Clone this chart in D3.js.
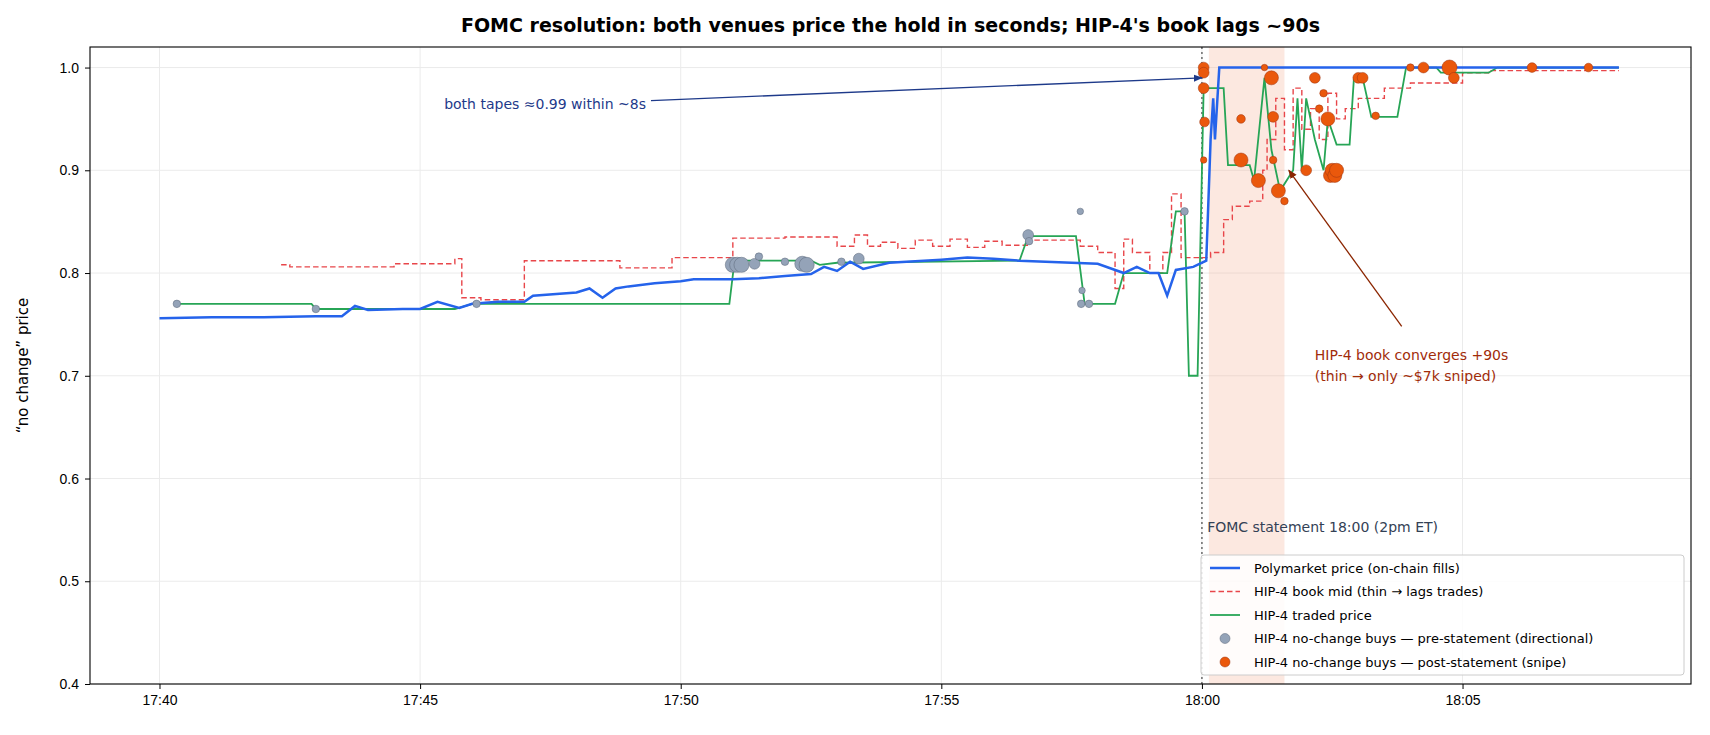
<!DOCTYPE html>
<html><head><meta charset="utf-8">
<script src="https://cdn.jsdelivr.net/npm/d3@7"></script>
<style>body{margin:0;background:#fff;font-family:"DejaVu Sans",sans-serif}</style>
</head><body><div id="chart"></div>
<script>
const polyTimes = ["17:40:00","17:41:00","17:42:00","17:43:00","17:43:30","17:43:45","17:44:00","17:44:40","17:45:00","17:45:20","17:45:45","17:46:00","17:46:30","17:47:00","17:47:10","17:48:00","17:48:15","17:48:30","17:48:45","17:49:00","17:49:30","17:50:00","17:50:15","17:51:00","17:51:30","17:52:00","17:52:30","17:52:45","17:53:00","17:53:15","17:53:30","17:54:00","17:55:00","17:55:30","17:56:00","17:56:30","17:57:00","17:58:00","17:58:30","17:58:45","17:59:00","17:59:10","17:59:20","17:59:30","17:59:50","18:00:05","18:00:10","18:00:13","18:00:15","18:00:20","18:08:00"];
const polyPrices = [0.756,0.757,0.757,0.758,0.758,0.768,0.764,0.765,0.765,0.772,0.766,0.770,0.772,0.772,0.778,0.781,0.785,0.776,0.785,0.787,0.790,0.792,0.794,0.794,0.795,0.797,0.799,0.806,0.802,0.811,0.804,0.810,0.813,0.815,0.814,0.812,0.811,0.809,0.800,0.806,0.800,0.800,0.778,0.803,0.806,0.812,0.930,0.970,0.930,1.0,1.0];

const bookTimes = ["17:42:20","17:42:30","17:44:30","17:45:40","17:45:48","17:46:10","17:47:00","17:48:50","17:49:50","17:51:00","17:52:00","17:53:00","17:53:20","17:53:35","17:53:50","17:54:10","17:54:30","17:54:50","17:55:10","17:55:30","17:55:50","17:56:10","17:56:40","17:57:40","17:58:00","17:58:20","17:58:30","17:58:40","17:59:00","17:59:15","17:59:25","17:59:36","17:59:40","18:00:10","18:00:25","18:00:35","18:00:55","18:01:10","18:01:15","18:01:25","18:01:35","18:01:45","18:01:55","18:02:05","18:02:15","18:02:25","18:02:35","18:02:45","18:03:00","18:03:30","18:04:00","18:05:00","18:05:30","18:08:00"];
const bookPrices = [0.808,0.806,0.809,0.814,0.776,0.774,0.812,0.805,0.815,0.834,0.835,0.826,0.837,0.826,0.830,0.824,0.832,0.826,0.833,0.825,0.831,0.827,0.832,0.826,0.820,0.785,0.833,0.820,0.800,0.820,0.877,0.815,0.815,0.820,0.852,0.865,0.870,0.900,0.930,0.970,0.920,0.980,0.940,0.960,0.930,0.975,0.950,0.960,0.970,0.980,0.985,0.995,0.997,0.997];

const tradeTimes = ["17:40:20","17:42:55","17:43:00","17:45:40","17:46:00","17:50:56","17:51:02","17:52:30","17:52:40","17:53:00","17:56:30","17:56:40","17:57:35","17:57:45","17:58:20","17:58:30","17:59:20","17:59:30","17:59:40","17:59:45","17:59:55","18:00:02","18:00:25","18:00:30","18:00:55","18:01:00","18:01:12","18:01:20","18:01:30","18:01:45","18:01:50","18:01:55","18:02:00","18:02:10","18:02:20","18:02:25","18:02:35","18:02:50","18:02:55","18:03:05","18:03:15","18:03:45","18:03:55","18:04:30","18:04:35","18:05:30","18:05:40","18:08:00"];
const tradePrices = [0.770,0.770,0.765,0.765,0.770,0.770,0.812,0.812,0.808,0.810,0.812,0.836,0.836,0.770,0.770,0.800,0.800,0.860,0.860,0.700,0.700,0.980,0.980,0.905,0.905,0.890,0.990,0.920,0.880,0.900,0.970,0.900,0.970,0.930,0.900,0.950,0.925,0.925,0.990,0.990,0.952,0.952,1.0,1.0,0.995,0.995,1.0,1.0];

const preTimes = ["17:40:20","17:43:00","17:46:05","17:51:00","17:51:05","17:51:10","17:51:25","17:51:30","17:52:00","17:52:20","17:52:25","17:53:05","17:53:25","17:56:40","17:56:41","17:57:40","17:57:42","17:57:41","17:57:50","17:59:40"];
const prePrices = [0.770,0.765,0.770,0.808,0.808,0.808,0.809,0.816,0.811,0.809,0.808,0.811,0.814,0.837,0.831,0.860,0.783,0.770,0.770,0.860];
const preSizes = [3.5,3.5,3.5,7,7,7,5,3.5,3.5,7,7,3.5,5,5,3.5,3,3,3.5,3.5,3.5];

const postTimes = ["18:00:02","18:00:02","18:00:02","18:00:03","18:00:02","18:00:45","18:00:45","18:01:05","18:01:20","18:01:12","18:01:22","18:01:22","18:01:28","18:01:35","18:02:00","18:02:10","18:02:15","18:02:20","18:02:25","18:02:28","18:02:30","18:02:33","18:02:35","18:03:00","18:03:05","18:03:20","18:04:00","18:04:15","18:04:45","18:04:50","18:06:20","18:07:25"];
const postPrices = [1.0,0.995,0.98,0.947,0.91,0.95,0.91,0.89,0.99,1.0,0.952,0.91,0.88,0.87,0.90,0.99,0.96,0.975,0.95,0.895,0.90,0.895,0.90,0.99,0.99,0.953,1.0,1.0,1.0,0.99,1.0,1.0];
const postSizes = [5,5,5,4.5,3,4,6.5,6.5,6.5,3,5,3.5,6.5,3.5,5,5,3.5,3.5,6.5,6.5,6.5,6.5,6.5,5,5,3.5,3.5,5,7,5,4.5,4];

const W = 1710, H = 735;
const margin = { top: 47, right: 19, bottom: 51, left: 90 };
const width = W - margin.left - margin.right, height = H - margin.top - margin.bottom;
const parse = d3.timeParse("%H:%M:%S");

const svg = d3.select("#chart").append("svg").attr("width", W).attr("height", H)
  .style("font-family", "DejaVu Sans, sans-serif");
const g = svg.append("g").attr("transform", `translate(${margin.left},${margin.top})`);

const x = d3.scaleTime().domain([parse("17:38:40"), parse("18:09:23")]).range([0, width]);
const y = d3.scaleLinear().domain([0.4, 1.02]).range([height, 0]);

// grid
const xt = [0, 5, 10, 15, 20, 25].map(m => d3.timeMinute.offset(parse("17:40:00"), m));
const yt = [0.4, 0.5, 0.6, 0.7, 0.8, 0.9, 1.0];
g.selectAll(".gx").data(xt).enter().append("line").attr("x1", d => x(d)).attr("x2", d => x(d))
  .attr("y1", 0).attr("y2", height).attr("stroke", "#ebebeb");
g.selectAll(".gy").data(yt).enter().append("line").attr("y1", d => y(d)).attr("y2", d => y(d))
  .attr("x1", 0).attr("x2", width).attr("stroke", "#ebebeb");

// shaded window + statement line
g.append("rect").attr("x", x(parse("18:00:08"))).attr("width", x(parse("18:01:35")) - x(parse("18:00:08")))
  .attr("y", 0).attr("height", height).attr("fill", "#f4a582").attr("opacity", 0.25);
g.append("line").attr("x1", x(parse("18:00:00"))).attr("x2", x(parse("18:00:00")))
  .attr("y1", 0).attr("y2", height).attr("stroke", "#555").attr("stroke-dasharray", "2,3").attr("stroke-width", 1.3);

const toPts = (t, v) => t.map((d, i) => [parse(d), v[i]]);
g.append("path").datum(toPts(bookTimes, bookPrices))
  .attr("d", d3.line().x(d => x(d[0])).y(d => y(d[1])).curve(d3.curveStepAfter))
  .attr("fill", "none").attr("stroke", "#e8464a").attr("stroke-width", 1.4).attr("stroke-dasharray", "5.5,3");
g.append("path").datum(toPts(tradeTimes, tradePrices)).attr("d", d3.line().x(d => x(d[0])).y(d => y(d[1])))
  .attr("fill", "none").attr("stroke", "#27a556").attr("stroke-width", 1.8);
g.append("path").datum(toPts(polyTimes, polyPrices)).attr("d", d3.line().x(d => x(d[0])).y(d => y(d[1])))
  .attr("fill", "none").attr("stroke", "#2563eb").attr("stroke-width", 2.5);

g.selectAll(".pre").data(preTimes.map((t, i) => [parse(t), prePrices[i], preSizes[i]])).enter().append("circle")
  .attr("cx", d => x(d[0])).attr("cy", d => y(d[1])).attr("r", d => d[2] * 1.08)
  .attr("fill", "#94a3b8").attr("stroke", "#5b6678").attr("stroke-width", 0.5);
g.selectAll(".post").data(postTimes.map((t, i) => [parse(t), postPrices[i], postSizes[i]])).enter().append("circle")
  .attr("cx", d => x(d[0])).attr("cy", d => y(d[1])).attr("r", d => d[2] * 1.08)
  .attr("fill", "#ea580c").attr("stroke", "#9a3412").attr("stroke-width", 0.5);

// axes
const xa = g.append("g").attr("transform", `translate(0,${height})`)
  .call(d3.axisBottom(x).tickValues(xt).tickFormat(d3.timeFormat("%H:%M")).tickSizeOuter(0).tickSize(5).tickPadding(6));
const ya = g.append("g").call(d3.axisLeft(y).tickValues(yt).tickFormat(d3.format(".1f")).tickSizeOuter(0).tickSize(5).tickPadding(6));
[xa, ya].forEach(a => { a.selectAll("text").attr("font-size", 14).attr("fill", "#000"); a.select(".domain").remove(); });
g.append("rect").attr("width", width).attr("height", height).attr("fill", "none").attr("stroke", "#000").attr("stroke-width", 1.1);

// annotations
svg.append("defs").selectAll("marker").data([["an", "#1e3a8a"], ["ar", "#8b2500"]]).enter().append("marker")
  .attr("id", d => d[0]).attr("viewBox", "0 0 10 10").attr("refX", 9).attr("refY", 5)
  .attr("markerWidth", 7).attr("markerHeight", 7).attr("orient", "auto")
  .append("path").attr("d", "M0,1L10,5L0,9z").attr("fill", d => d[1]);
g.append("line").attr("x1", x(parse("17:49:20")) + 5).attr("y1", y(0.962) - 6)
  .attr("x2", x(parse("18:00:00"))).attr("y2", y(0.99)).attr("stroke", "#1e3a8a").attr("stroke-width", 1.3).attr("marker-end", "url(#an)");
g.append("text").attr("x", x(parse("17:49:20"))).attr("y", y(0.96)).attr("text-anchor", "end")
  .attr("font-size", 14).attr("fill", "#1e3a8a").text("both tapes ≈0.99 within ~8s");
g.append("line").attr("x1", x(parse("18:03:50"))).attr("y1", y(0.748))
  .attr("x2", x(parse("18:01:40"))).attr("y2", y(0.9)).attr("stroke", "#8b2500").attr("stroke-width", 1.3).attr("marker-end", "url(#ar)");
const rt = g.append("text").attr("font-size", 14).attr("fill", "#a12c0a");
rt.append("tspan").attr("x", x(parse("18:02:10"))).attr("y", y(0.715)).text("HIP-4 book converges +90s");
rt.append("tspan").attr("x", x(parse("18:02:10"))).attr("y", y(0.695)).text("(thin → only ~$7k sniped)");
g.append("text").attr("x", x(parse("18:00:06"))).attr("y", y(0.548)).attr("font-size", 14).attr("fill", "#334155")
  .text("FOMC statement 18:00 (2pm ET)");

// title + labels
svg.append("text").attr("x", margin.left + width / 2).attr("y", 32).attr("text-anchor", "middle")
  .attr("font-size", 19).attr("font-weight", "bold").text("FOMC resolution: both venues price the hold in seconds; HIP-4's book lags ~90s");
svg.append("text").attr("transform", `translate(28,${margin.top + height / 2}) rotate(-90)`).attr("text-anchor", "middle")
  .attr("font-size", 15).text("“no change” price");

// legend
const lg = g.append("g").attr("transform", `translate(${width - 490},${height - 129})`);
lg.append("rect").attr("width", 483).attr("height", 120).attr("rx", 3).attr("fill", "#fff").attr("fill-opacity", 0.85).attr("stroke", "#ccc");
const legendItems = [
  { label: "Polymarket price (on-chain fills)", type: "line", color: "#2563eb", w: 2.5 },
  { label: "HIP-4 book mid (thin → lags trades)", type: "dash", color: "#e8464a", w: 1.4 },
  { label: "HIP-4 traded price", type: "line", color: "#27a556", w: 1.8 },
  { label: "HIP-4 no-change buys — pre-statement (directional)", type: "dot", color: "#94a3b8", s: "#5b6678" },
  { label: "HIP-4 no-change buys — post-statement (snipe)", type: "dot", color: "#ea580c", s: "#9a3412" }
];
legendItems.forEach((d, i) => {
  const yy = 13 + i * 23.5;
  if (d.type === "dot") lg.append("circle").attr("cx", 24).attr("cy", yy).attr("r", 5).attr("fill", d.color).attr("stroke", d.s).attr("stroke-width", 0.5);
  else lg.append("line").attr("x1", 9).attr("x2", 39).attr("y1", yy).attr("y2", yy).attr("stroke", d.color)
    .attr("stroke-width", d.w).attr("stroke-dasharray", d.type === "dash" ? "5.5,3" : null);
  lg.append("text").attr("x", 53).attr("y", yy + 4.5).attr("font-size", 13).text(d.label);
});
</script></body></html>
